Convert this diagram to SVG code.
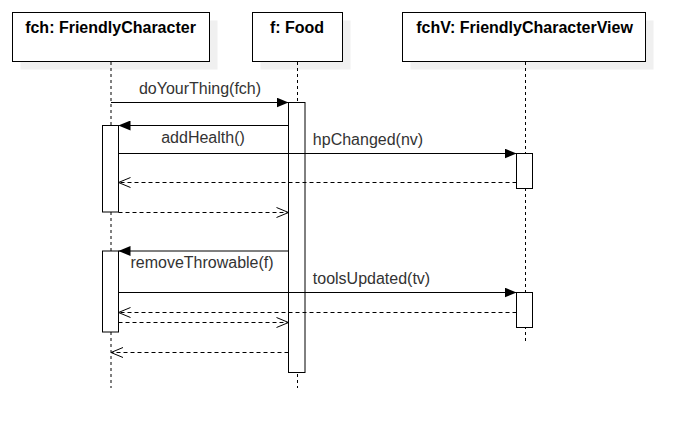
<svg xmlns="http://www.w3.org/2000/svg" width="696" height="440" viewBox="0 0 696 440">
<style>
.box{fill:#fff;stroke:#000;stroke-width:1}
.shadow{fill:#f0f0f0;stroke:none}
.title{font-family:"Liberation Sans",Arial,sans-serif;font-size:16px;font-weight:bold;fill:#000;text-anchor:middle}
.life{stroke:#000;stroke-width:1;stroke-dasharray:3 3;fill:none}
.bar{fill:#fff;stroke:#000;stroke-width:1}
.msg{stroke:#000;stroke-width:1;fill:none}
.ret{stroke:#000;stroke-width:1;fill:none;stroke-dasharray:4 3}
.lbl{font-family:"Liberation Sans",Arial,sans-serif;font-size:16px;fill:#333;text-anchor:middle}
</style>
<defs>
<marker id="filled" markerWidth="12" markerHeight="10" refX="12" refY="5" orient="auto" markerUnits="userSpaceOnUse">
<path d="M0,0 L12,5 L0,10 Z" fill="#000"/>
</marker>
<marker id="open" markerWidth="14" markerHeight="12" refX="12.5" refY="6" orient="auto" markerUnits="userSpaceOnUse">
<path d="M0.5,1 L12.5,6 L0.5,11" fill="none" stroke="#000" stroke-width="1"/>
</marker>
</defs>
<g id="fch">
<rect class="shadow" x="20.5" y="20.5" width="197" height="49"/>
<rect class="box" x="12.5" y="12.5" width="197" height="49"/>
<text class="title" x="110.5" y="33">fch: FriendlyCharacter</text>
<line class="life" x1="111" y1="62" x2="111" y2="388"/>
<rect class="bar" x="102.5" y="125.5" width="16" height="86.5"/>
<rect class="bar" x="102.5" y="251" width="16" height="81"/>
</g>
<g id="food">
<rect class="shadow" x="260.5" y="20.5" width="90" height="49"/>
<rect class="box" x="252.5" y="12.5" width="90" height="49"/>
<text class="title" x="297" y="33">f: Food</text>
<line class="life" x1="297.5" y1="62" x2="297.5" y2="388"/>
<rect class="bar" x="288.5" y="102.5" width="16.5" height="270"/>
</g>
<g id="fchV">
<rect class="shadow" x="410.5" y="20.5" width="243" height="49"/>
<rect class="box" x="402.5" y="12.5" width="243" height="49"/>
<text class="title" x="524.5" y="33">fchV: FriendlyCharacterView</text>
<line class="life" x1="525.5" y1="62" x2="525.5" y2="343"/>
<rect class="bar" x="516.5" y="153.5" width="16" height="35"/>
<rect class="bar" x="516.5" y="292.5" width="16" height="35"/>
</g>
<g id="connectors">
<line class="msg" x1="111" y1="102.5" x2="288.5" y2="102.5" marker-end="url(#filled)"/>
<text class="lbl" x="200" y="94">doYourThing(fch)</text>
<line class="msg" x1="288.5" y1="125.5" x2="118.5" y2="125.5" marker-end="url(#filled)"/>
<text class="lbl" x="203" y="143">addHealth()</text>
<line class="msg" x1="118.5" y1="153.5" x2="516.5" y2="153.5" marker-end="url(#filled)"/>
<text class="lbl" x="368" y="145">hpChanged(nv)</text>
<line class="ret" x1="516.5" y1="182.5" x2="118.5" y2="182.5" marker-end="url(#open)"/>
<line class="ret" x1="118.5" y1="212.5" x2="288.5" y2="212.5" marker-end="url(#open)"/>
<line class="msg" x1="288.5" y1="251" x2="118.5" y2="251" marker-end="url(#filled)"/>
<text class="lbl" x="202" y="268">removeThrowable(f)</text>
<line class="msg" x1="118.5" y1="292.5" x2="516.5" y2="292.5" marker-end="url(#filled)"/>
<text class="lbl" x="371.5" y="284">toolsUpdated(tv)</text>
<line class="ret" x1="516.5" y1="312.5" x2="118.5" y2="312.5" marker-end="url(#open)"/>
<line class="ret" x1="118.5" y1="322.5" x2="288.5" y2="322.5" marker-end="url(#open)"/>
<line class="ret" x1="288.5" y1="352.5" x2="111" y2="352.5" marker-end="url(#open)"/>
</g>
</svg>
